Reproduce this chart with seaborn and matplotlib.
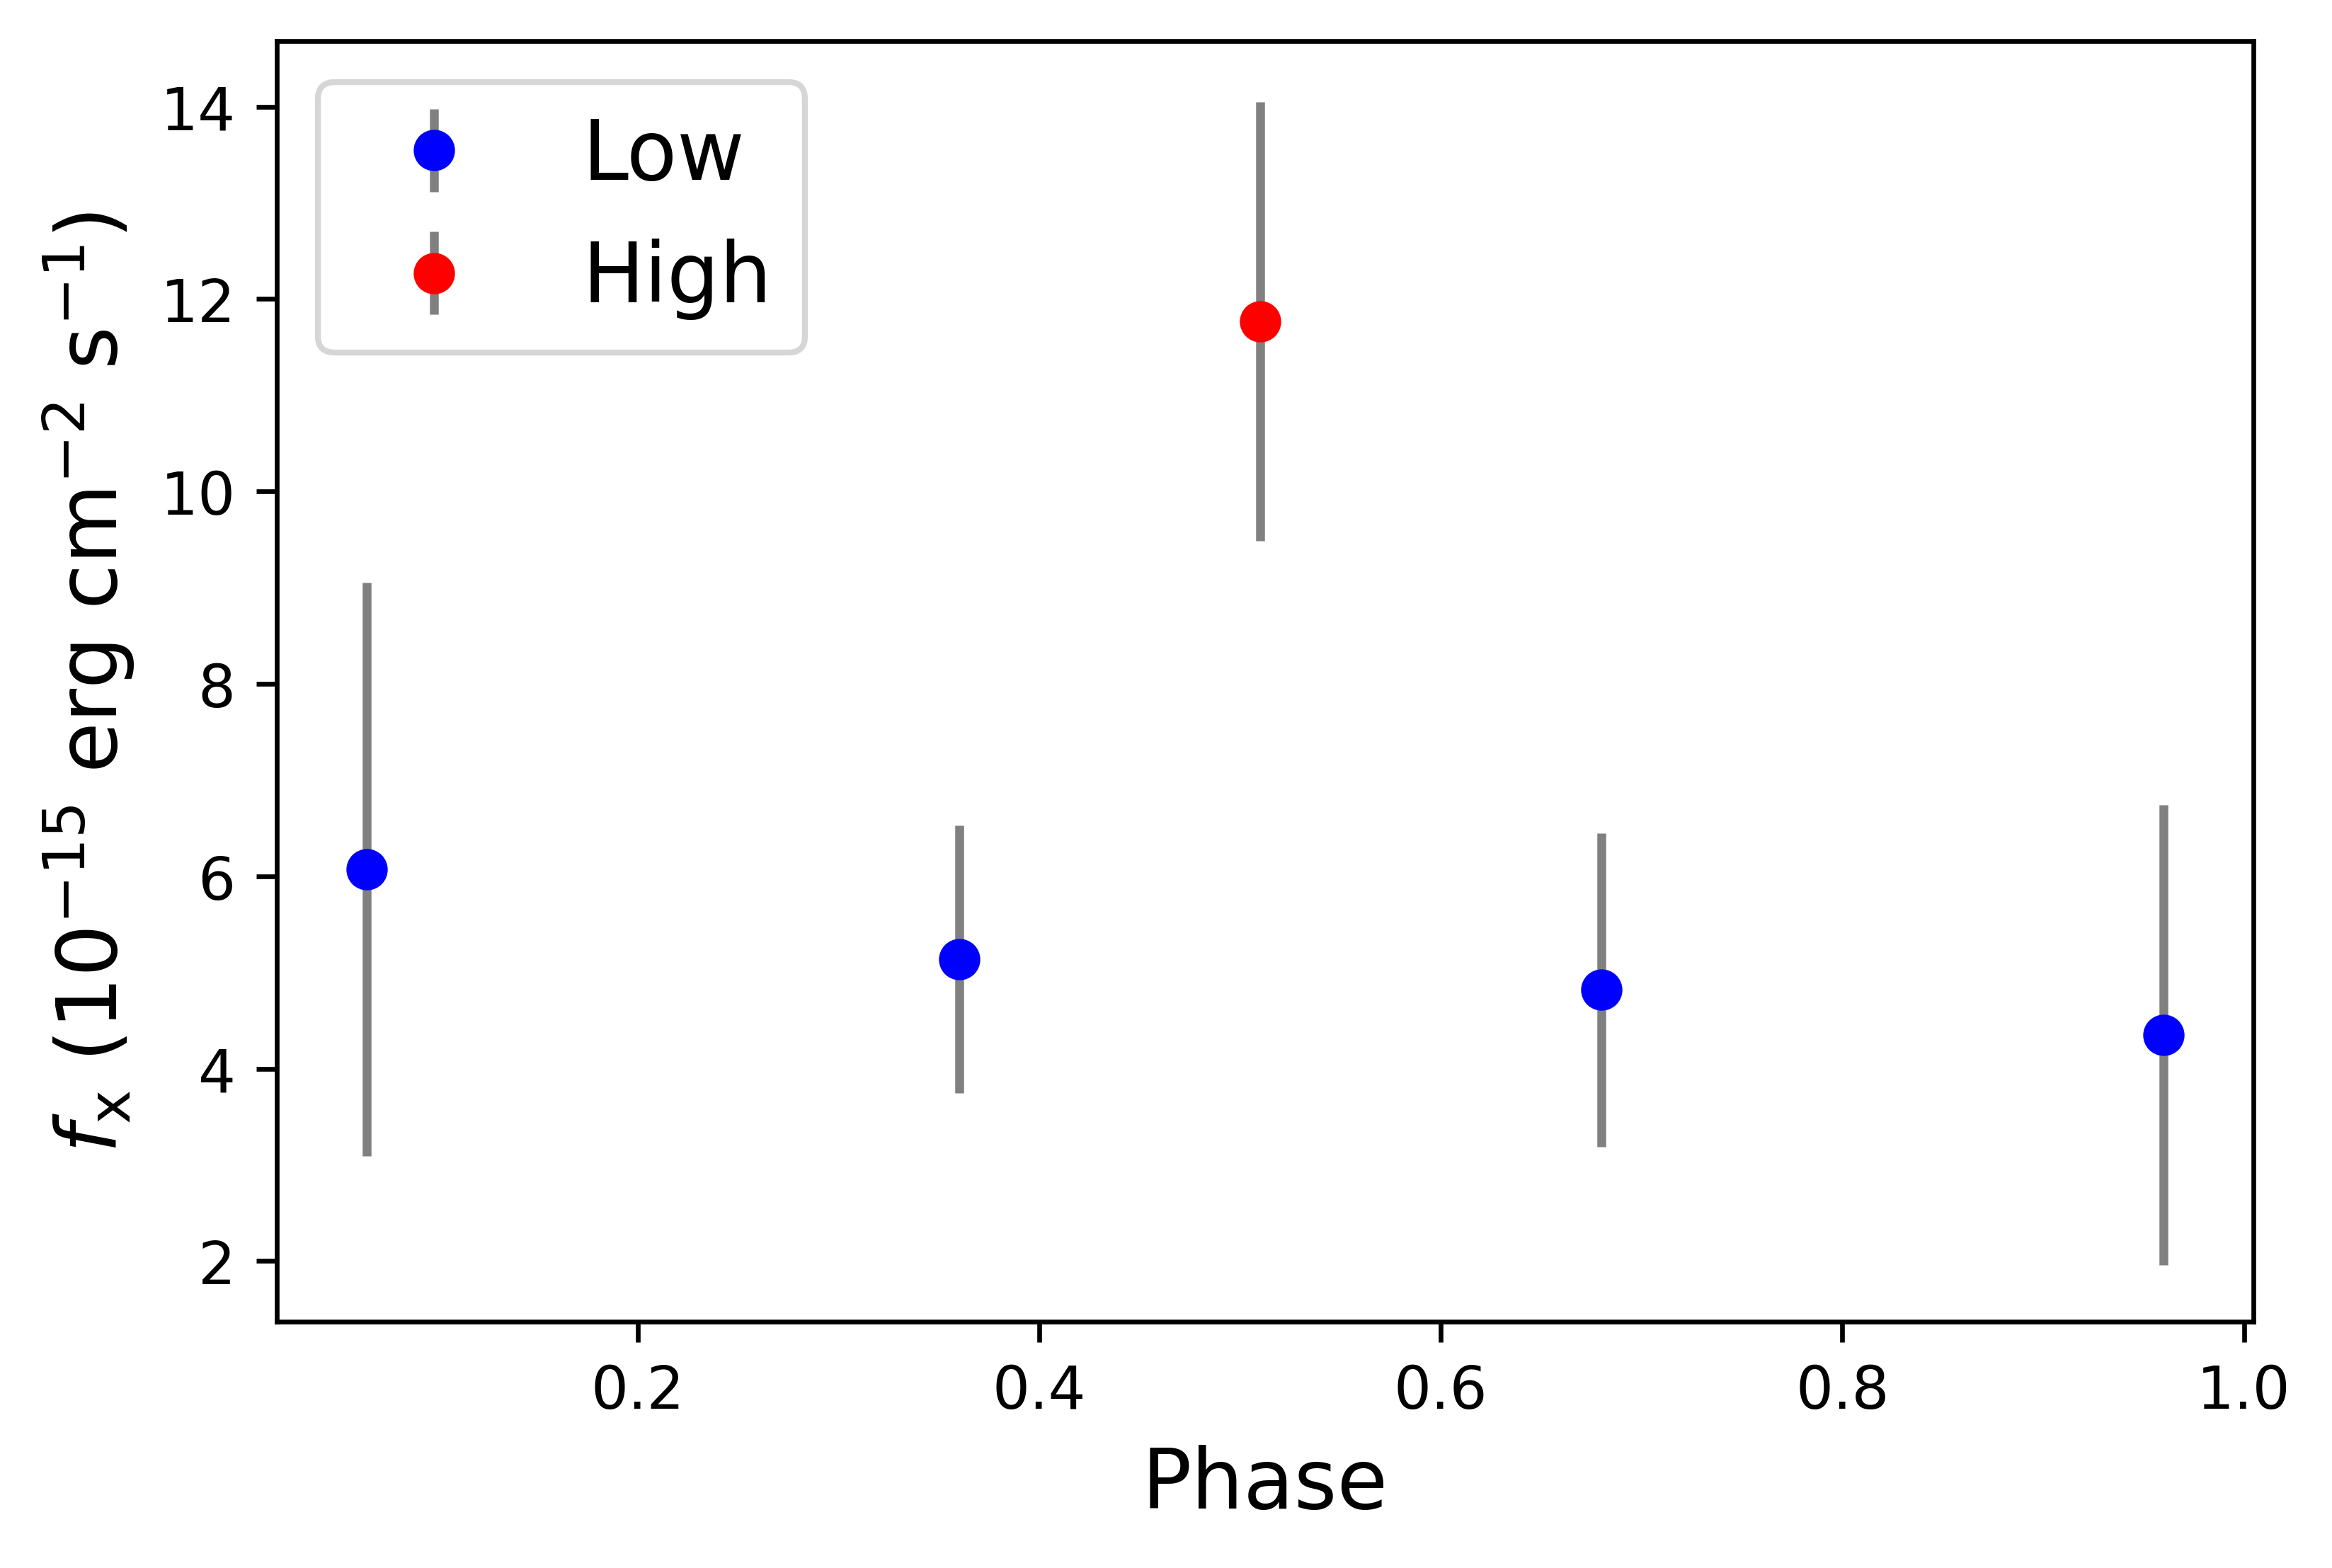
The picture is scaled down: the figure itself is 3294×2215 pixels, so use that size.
import numpy as np
import pandas as pd
import matplotlib
matplotlib.use('Agg')
import matplotlib.pyplot as plt
import seaborn as sns

# Data fluks per fase
phaseLow = [0.065, 0.36, 0.68, 0.96]
fluxLow = [6.07, 5.14, 4.82, 4.35]
errLow = [2.98, 1.39, 1.63, 2.39]

phaseHigh = [0.51]
fluxHigh = [11.77]
errHigh = [2.28]

df = pd.DataFrame({
    'Phase': phaseLow + phaseHigh,
    'Flux': fluxLow + fluxHigh,
    'State': ['Low'] * len(phaseLow) + ['High'] * len(phaseHigh),
})

fig, ax = plt.subplots(figsize=(5.49, 3.693), dpi=600)
fig.subplots_adjust(left=0.1187, right=0.9663, top=0.9734, bottom=0.157)

ax.errorbar(phaseLow, fluxLow, yerr=errLow, fmt='o', color='blue',
            ecolor='gray', elinewidth=1.5, label='Low')
ax.errorbar(phaseHigh, fluxHigh, yerr=errHigh, fmt='o', color='red',
            ecolor='gray', elinewidth=1.5, label='High')

# titik di atas errorbar
sns.scatterplot(data=df, x='Phase', y='Flux', hue='State',
                palette={'Low': 'blue', 'High': 'red'}, s=36,
                linewidth=0, legend=False, ax=ax, zorder=5)

ax.set_ylim(1.37, 14.68)
ax.set_xlabel('Phase', fontsize=14)
ax.set_ylabel(r'$f_{\rm x}$ ($10^{-15}$ erg cm$^{-2}$ s$^{-1}$)', fontsize=14)
ax.legend(loc='upper left', fontsize=14)

plt.savefig('out.png', dpi=600)
